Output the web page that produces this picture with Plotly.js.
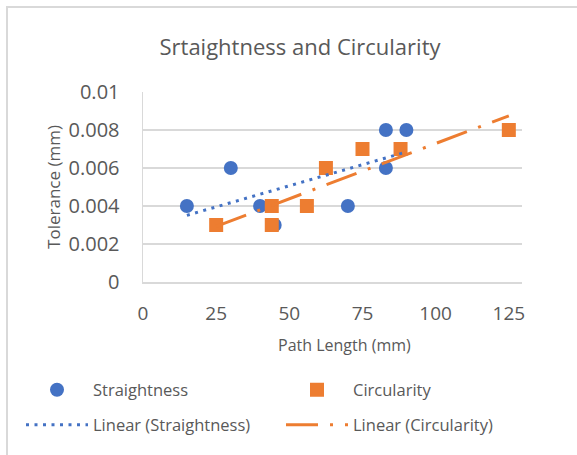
<!DOCTYPE html>
<html>
<head>
<meta charset="utf-8">
<script src="https://cdn.plot.ly/plotly-3.0.1.min.js"></script>
<style>
  html, body { margin: 0; padding: 0; background: #ffffff; }
  #wrap { position: relative; width: 577px; height: 455px; overflow: hidden; }
  #chart { position: absolute; left: 0; top: 0; width: 577px; height: 455px; }
  /* chart-area frame: only its top and left edges fall inside the view */
  #frame { position: absolute; left: 6px; top: 6px; width: 640px; height: 520px;
           border-top: 2px solid #d9d9d9; border-left: 2px solid #d9d9d9;
           box-sizing: border-box; pointer-events: none; }
</style>
</head>
<body>
<div id="wrap">
  <div id="chart"></div>
  <div id="frame"></div>
</div>
<script>
// Measured tolerances (mm) against path length (mm)
const straightnessX = [15, 30, 40, 45, 70, 83, 83, 90];
const straightnessY = [0.004, 0.006, 0.004, 0.003, 0.004, 0.008, 0.006, 0.008];

const circularityX = [25, 44, 44, 56, 62.5, 75, 88, 125];
const circularityY = [0.003, 0.004, 0.003, 0.004, 0.006, 0.007, 0.007, 0.008];

const xTickVals = [0, 25, 50, 75, 100, 125];
const xTickText = ['0', '25', '50', '75', '100', '125'];
const yTickVals = [0, 0.002, 0.004, 0.006, 0.008, 0.01];
const yTickText = ['0', '0.002', '0.004', '0.006', '0.008', '0.01'];

const BLUE = '#4472C4';
const ORANGE = '#ED7D31';
const TEXT = '#595959';
const GRID = '#d9d9d9';
const FONT = 'Open Sans, Noto Sans, sans-serif';

// Least-squares trend line spanning the data's x extent
function linearTrend(xs, ys) {
  const n = xs.length;
  const mx = xs.reduce((a, b) => a + b, 0) / n;
  const my = ys.reduce((a, b) => a + b, 0) / n;
  let sxy = 0, sxx = 0;
  for (let i = 0; i < n; i++) {
    sxy += (xs[i] - mx) * (ys[i] - my);
    sxx += (xs[i] - mx) * (xs[i] - mx);
  }
  const slope = sxy / sxx;
  const icpt = my - slope * mx;
  const x0 = Math.min(...xs), x1 = Math.max(...xs);
  return { x: [x0, x1], y: [icpt + slope * x0, icpt + slope * x1] };
}

const trendS = linearTrend(straightnessX, straightnessY);
const trendC = linearTrend(circularityX, circularityY);

const traces = [
  {
    type: 'scatter', mode: 'markers', name: 'Straightness',
    x: straightnessX, y: straightnessY,
    marker: { symbol: 'circle', size: 14, color: BLUE },
    legend: 'legend'
  },
  {
    type: 'scatter', mode: 'markers', name: 'Circularity',
    x: circularityX, y: circularityY,
    marker: { symbol: 'square', size: 14, color: ORANGE },
    legend: 'legend2'
  },
  {
    type: 'scatter', mode: 'lines', name: 'Linear (Straightness)',
    x: trendS.x, y: trendS.y,
    line: { color: BLUE, width: 3, dash: '3px,5.5px' },
    legend: 'legend3'
  },
  {
    type: 'scatter', mode: 'lines', name: 'Linear (Circularity)',
    x: trendC.x, y: trendC.y,
    line: { color: ORANGE, width: 3, dash: '32px,12px,3px,12px' },
    legend: 'legend4'
  }
];

// One single-entry legend per cell of the 2 x 2 key grid
function legendAt(left, centerY) {
  return {
    orientation: 'h',
    xref: 'container', yref: 'container',
    x: left / 577, xanchor: 'left',
    y: 1 - centerY / 455, yanchor: 'middle',
    itemwidth: 62,
    font: { family: FONT, size: 16.5, color: TEXT },
    bgcolor: 'rgba(0,0,0,0)'
  };
}

const layout = {
  width: 577, height: 455,
  margin: { l: 143, r: 55, t: 92, b: 173 },
  paper_bgcolor: 'rgba(0,0,0,0)',
  plot_bgcolor: '#ffffff',
  font: { family: FONT, size: 16, color: TEXT },
  title: {
    text: 'Srtaightness and Circularity',
    font: { family: FONT, size: 22, color: TEXT },
    x: 300 / 577, xanchor: 'center', xref: 'container',
    y: 1 - 47 / 455, yanchor: 'middle', yref: 'container'
  },
  xaxis: {
    range: [0, 129.5],
    tickvals: xTickVals, ticktext: xTickText,
    showgrid: false, zeroline: false,
    showline: true, linecolor: GRID, linewidth: 1.5,
    ticks: '', ticklabelstandoff: 14,
    tickfont: { family: FONT, size: 19, color: TEXT }
  },
  yaxis: {
    range: [0, 0.01],
    tickvals: yTickVals, ticktext: yTickText,
    showgrid: true, gridcolor: GRID, gridwidth: 1.3,
    zeroline: false,
    showline: true, linecolor: GRID, linewidth: 1.5,
    ticks: '', ticklabelstandoff: 18,
    tickfont: { family: FONT, size: 20, color: TEXT },
    title: { text: 'Tolerance (mm)', standoff: 3,
             font: { family: FONT, size: 17, color: TEXT } }
  },
  // x-axis title, set slightly right of the plot-area centre
  annotations: [{
    text: 'Path Length (mm)',
    xref: 'paper', yref: 'paper',
    x: (344 - 143) / 379, y: (282 - 345) / 190,
    xanchor: 'center', yanchor: 'middle',
    showarrow: false,
    font: { family: FONT, size: 16, color: TEXT }
  }],
  legend: legendAt(21, 390),
  legend2: legendAt(281, 390),
  legend3: legendAt(21, 425),
  legend4: legendAt(281, 425),
  showlegend: true
};

Plotly.newPlot('chart', traces, layout, { displayModeBar: false, staticPlot: true });
</script>
</body>
</html>
